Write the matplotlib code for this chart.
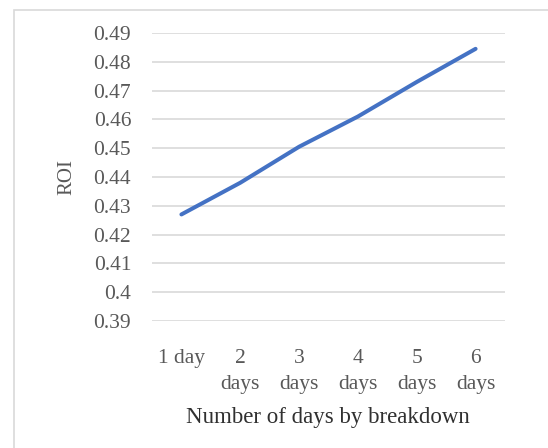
import matplotlib.pyplot as plt
from matplotlib.patches import Rectangle

# data
categories = ['1 day', '2\ndays', '3\ndays', '4\ndays', '5\ndays', '6\ndays']
roi = [0.427, 0.438, 0.4505, 0.461, 0.473, 0.4845]
y_ticks = [0.39, 0.40, 0.41, 0.42, 0.43, 0.44, 0.45, 0.46, 0.47, 0.48, 0.49]
y_tick_labels = ['0.39', '0.4', '0.41', '0.42', '0.43', '0.44', '0.45', '0.46', '0.47', '0.48', '0.49']

plt.rcParams['font.family'] = ['Liberation Serif', 'DejaVu Serif']
text_col = '#595959'

fig = plt.figure(figsize=(5.48, 4.48), dpi=100)
# light frame like the excel chart area
fig.patches.append(Rectangle((14 / 548, -0.1), 1.2, 1 - 10 / 448 + 0.1, transform=fig.transFigure,
                             fill=False, edgecolor='#d9d9d9', linewidth=1.2))

ax = fig.add_axes([152 / 548, 1 - 321 / 448, (505 - 152) / 548, (321 - 33) / 448])
x = list(range(len(categories)))
ax.plot(x, roi, color='#4472C4', linewidth=2.9, solid_capstyle='round', zorder=3)

ax.set_xlim(-0.5, len(categories) - 0.5)
ax.set_ylim(0.39, 0.49)
ax.set_yticks(y_ticks)
ax.set_yticklabels(y_tick_labels)
ax.set_xticks(x)
ax.set_xticklabels(categories, linespacing=1.5, va='top')
ax.tick_params(axis='y', length=0, pad=15, labelsize=15.5, labelcolor=text_col)
ax.tick_params(axis='x', length=0, pad=20, labelsize=15.5, labelcolor=text_col)
ax.grid(axis='y', color='#d9d9d9', linewidth=1.2)
ax.set_axisbelow(True)
for s in ax.spines.values():
    s.set_visible(False)

ax.set_ylabel('ROI', fontsize=15, color=text_col, labelpad=12)
fig.text(328 / 548, 1 - 417 / 448, 'Number of days by breakdown', fontsize=16.5,
         color='#303030', ha='center', va='center')

fig.savefig('out.png', dpi=100)
